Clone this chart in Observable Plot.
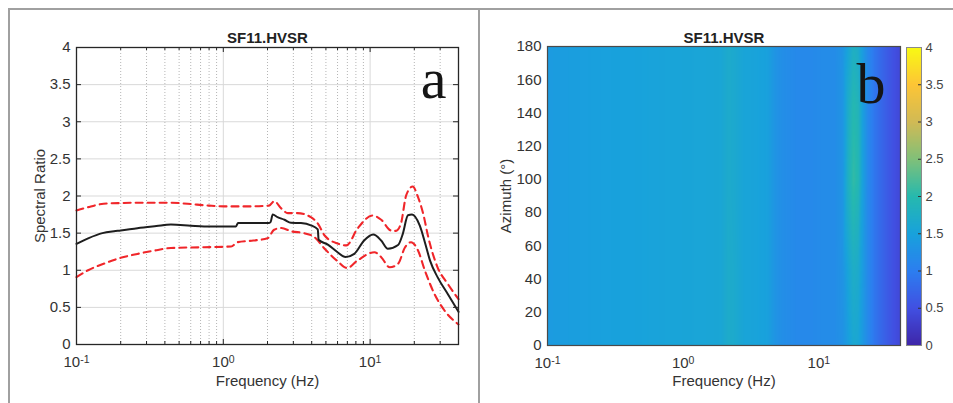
<!DOCTYPE html>
<html><head><meta charset="utf-8">
<script src="https://cdn.jsdelivr.net/npm/d3@7"></script>
<script src="https://cdn.jsdelivr.net/npm/@observablehq/plot@0.6"></script>
<style>
html,body{margin:0;padding:0;background:#fff;}
#wrap{position:relative;width:953px;height:403px;overflow:hidden;font-family:"Liberation Sans",Arial,sans-serif;}
.pan{position:absolute;top:0;}
.bl{position:absolute;background:#a0a0a0;}
</style></head><body>
<div id="wrap">
 <div id="pa" class="pan" style="left:0px"></div>
 <div id="pb" class="pan" style="left:480px"></div>
 <div id="pc" class="pan" style="left:903px"></div>
 <div class="bl" style="left:9px;top:8px;width:944px;height:2px"></div>
 <div class="bl" style="left:8px;top:8px;width:2px;height:395px"></div>
 <div class="bl" style="left:478px;top:8px;width:2px;height:395px"></div>
</div>
<script>
// ---------- Panel a: HVSR curves ----------
const meanFreq  = [0.1, 0.12, 0.15, 0.18, 0.2, 0.26, 0.35, 0.44, 0.6, 0.74, 1.0, 1.22, 1.26, 1.6, 2.05, 2.1, 2.17, 2.34, 2.61, 2.89, 3.38, 3.95, 4.4, 4.46, 5.15, 6.0, 6.8, 7.8, 9.1, 10.5, 11.9, 13.2, 15.5, 16.7, 18.1, 19.3, 21.8, 23.6, 25.6, 28.8, 33.8, 40];
const meanRatio = [1.356, 1.43, 1.50, 1.525, 1.535, 1.567, 1.595, 1.615, 1.60, 1.59, 1.59, 1.59, 1.636, 1.636, 1.636, 1.65, 1.75, 1.715, 1.68, 1.64, 1.635, 1.605, 1.55, 1.41, 1.345, 1.243, 1.178, 1.22, 1.40, 1.48, 1.40, 1.29, 1.34, 1.49, 1.74, 1.75, 1.60, 1.378, 1.13, 0.907, 0.68, 0.44];

const upperFreq  = [0.1, 0.12, 0.153, 0.2, 0.3, 0.44, 0.57, 0.8, 1.01, 1.5, 2.05, 2.22, 2.49, 2.75, 3.2, 3.95, 4.42, 4.9, 6.0, 6.9, 8.2, 10.4, 11.9, 13.9, 15.0, 16.2, 17.6, 19.5, 21.2, 23.0, 24.9, 28.8, 33.8, 40];
const upperRatio = [1.805, 1.85, 1.895, 1.905, 1.91, 1.91, 1.895, 1.87, 1.86, 1.86, 1.87, 1.93, 1.83, 1.77, 1.77, 1.715, 1.625, 1.468, 1.36, 1.335, 1.56, 1.737, 1.68, 1.535, 1.53, 1.625, 2.007, 2.128, 1.984, 1.76, 1.445, 1.04, 0.817, 0.61];

const lowerFreq  = [0.1, 0.12, 0.153, 0.2, 0.26, 0.35, 0.44, 0.74, 1.13, 1.25, 1.6, 2.0, 2.22, 2.49, 2.89, 3.55, 4.18, 4.9, 6.0, 6.98, 8.2, 10.7, 11.9, 13.6, 15.5, 17.3, 19.0, 21.2, 23.6, 27.4, 32.1, 40];
const lowerRatio = [0.907, 1.0, 1.087, 1.167, 1.22, 1.27, 1.30, 1.31, 1.32, 1.378, 1.40, 1.43, 1.545, 1.57, 1.525, 1.50, 1.445, 1.29, 1.122, 1.03, 1.13, 1.243, 1.176, 1.04, 1.087, 1.31, 1.378, 1.266, 0.997, 0.683, 0.458, 0.27];

const ratioTicks   = [0, 0.5, 1, 1.5, 2, 2.5, 3, 3.5, 4];
const freqMajor    = [0.1, 1, 10];
const freqMajorLbl = ["10^-1", "10^0", "10^1"];
const freqMinor    = [0.2, 0.3, 0.4, 0.5, 0.6, 0.7, 0.8, 0.9, 2, 3, 4, 5, 6, 7, 8, 9, 20, 30];

// ---------- Panel b: azimuthal HVSR map ----------
const heatFreq   = [0.1, 0.13, 0.17, 0.25, 0.4, 0.7, 1.0, 1.5, 1.9, 2.15, 2.4, 2.8, 3.5, 4.2, 4.8, 5.5, 7, 9, 11, 13, 15, 16.5, 18, 19.5, 21, 23, 26, 30, 35, 40];
const heatAz     = [0, 45, 100, 145, 180];
const heatAz0    = [1.40, 1.43, 1.45, 1.48, 1.50, 1.53, 1.55, 1.56, 1.58, 1.70, 1.66, 1.55, 1.52, 1.48, 1.30, 1.22, 1.15, 1.16, 1.20, 1.20, 1.28, 1.45, 1.62, 1.58, 1.38, 1.15, 0.90, 0.70, 0.52, 0.40];
const heatAz45   = [1.40, 1.43, 1.45, 1.48, 1.50, 1.53, 1.55, 1.56, 1.58, 1.70, 1.66, 1.55, 1.52, 1.48, 1.30, 1.22, 1.15, 1.16, 1.20, 1.20, 1.30, 1.55, 1.75, 1.68, 1.42, 1.15, 0.90, 0.70, 0.52, 0.40];
const heatAz100  = [1.40, 1.43, 1.45, 1.48, 1.50, 1.53, 1.55, 1.56, 1.58, 1.68, 1.64, 1.55, 1.52, 1.48, 1.30, 1.22, 1.15, 1.16, 1.20, 1.20, 1.32, 1.80, 2.08, 1.95, 1.50, 1.15, 0.90, 0.70, 0.52, 0.40];
const heatAz145  = [1.40, 1.43, 1.45, 1.48, 1.50, 1.53, 1.55, 1.56, 1.58, 1.68, 1.64, 1.55, 1.52, 1.48, 1.30, 1.22, 1.15, 1.16, 1.20, 1.20, 1.32, 1.72, 1.98, 1.88, 1.48, 1.15, 0.90, 0.70, 0.52, 0.40];
const heatAz180  = [1.40, 1.43, 1.45, 1.48, 1.50, 1.53, 1.55, 1.56, 1.58, 1.68, 1.64, 1.55, 1.52, 1.48, 1.30, 1.22, 1.15, 1.16, 1.20, 1.20, 1.30, 1.55, 1.78, 1.70, 1.42, 1.15, 0.90, 0.70, 0.52, 0.40];
const azTicks    = [0, 20, 40, 60, 80, 100, 120, 140, 160, 180];
const cbTicks    = [0, 0.5, 1, 1.5, 2, 2.5, 3, 3.5, 4];
const parula     = ["#3e26a8", "#4150e2", "#2c7ef0", "#18a2dc", "#26b9ae", "#80c079", "#d1ba55", "#fdc536", "#f8fa14"];

const FONT = "'Liberation Sans', Arial, Helvetica, sans-serif";
const toPts = (fs, vs) => fs.map((f, i) => ({f, v: vs[i]}));
const meanData = toPts(meanFreq, meanRatio);
const upperData = toPts(upperFreq, upperRatio);
const lowerData = toPts(lowerFreq, lowerRatio);

const heatRows = [heatAz0, heatAz45, heatAz100, heatAz145, heatAz180];
const heatPoints = [];
heatAz.forEach((az, j) => heatFreq.forEach((f, i) => heatPoints.push({f, az, v: heatRows[j][i]})));

const colorOpts = {type: "linear", domain: [0, 4], interpolate: d3.piecewise(d3.interpolateRgb, parula)};
const fmtFreq = (d) => freqMajorLbl[freqMajor.indexOf(d)];
const fmtNum = (d) => `${d}`;

function superscripts(svg) {
  const ns = "http://www.w3.org/2000/svg";
  svg.querySelectorAll('[aria-label="x-axis tick label"] text').forEach((t) => {
    const parts = t.textContent.split("^");
    if (parts.length !== 2) return;
    t.textContent = "";
    const a = document.createElementNS(ns, "tspan");
    a.textContent = parts[0];
    const b = document.createElementNS(ns, "tspan");
    b.textContent = parts[1];
    b.setAttribute("dy", "-0.42em");
    b.setAttribute("font-size", "10.5");
    t.append(a, b);
  });
}

// Panel a
const A = {w: 478, h: 403, mt: 47, mr: 20, mb: 59, ml: 76};
const aw = A.w - A.ml - A.mr, ah = A.h - A.mt - A.mb;
const tickStroke = "#262626";
const chartA = Plot.plot({
  width: A.w, height: A.h, marginTop: A.mt, marginRight: A.mr, marginBottom: A.mb, marginLeft: A.ml,
  style: {background: "transparent", fontFamily: FONT, fontSize: "15px", color: "#333", overflow: "visible"},
  x: {type: "log", domain: [0.1, 40]},
  y: {domain: [0, 4]},
  marks: [
    Plot.gridY(ratioTicks, {stroke: "#d9d9d9", strokeOpacity: 1}),
    Plot.gridX(freqMinor, {stroke: "#b5b5b5", strokeOpacity: 1, strokeDasharray: "1,2"}),
    Plot.gridX(freqMajor, {stroke: "#d9d9d9", strokeOpacity: 1}),
    Plot.line(upperData, {x: "f", y: "v", stroke: "#f0262a", strokeWidth: 2.1, strokeDasharray: "7,5", curve: "monotone-x"}),
    Plot.line(lowerData, {x: "f", y: "v", stroke: "#f0262a", strokeWidth: 2.1, strokeDasharray: "7,5", curve: "monotone-x"}),
    Plot.line(meanData, {x: "f", y: "v", stroke: "#1e1e1e", strokeWidth: 2, curve: "monotone-x"}),
    Plot.tickX(freqMajor, {x: (d) => d, insetTop: ah - 5, stroke: tickStroke}),
    Plot.tickX(freqMajor, {x: (d) => d, insetBottom: ah - 5, stroke: tickStroke}),
    Plot.tickX(freqMinor, {x: (d) => d, insetTop: ah - 3, stroke: tickStroke}),
    Plot.tickX(freqMinor, {x: (d) => d, insetBottom: ah - 3, stroke: tickStroke}),
    Plot.tickY(ratioTicks, {y: (d) => d, insetRight: aw - 5, stroke: tickStroke}),
    Plot.tickY(ratioTicks, {y: (d) => d, insetLeft: aw - 5, stroke: tickStroke}),
    Plot.frame({stroke: "#262626", strokeWidth: 1.3}),
    Plot.axisX(freqMajor, {tickSize: 0, tickPadding: 12, tickFormat: fmtFreq, label: null}),
    Plot.axisY(ratioTicks, {tickSize: 0, tickPadding: 6, tickFormat: fmtNum, label: null}),
    Plot.text(["SF11.HVSR"], {text: (d) => d, frameAnchor: "top", dy: -5, lineAnchor: "bottom", fontWeight: "bold", fontSize: 15, fill: "#222"}),
    Plot.text(["Frequency (Hz)"], {text: (d) => d, frameAnchor: "bottom", dy: 41, lineAnchor: "bottom", fontSize: 15}),
    Plot.text(["Spectral Ratio"], {text: (d) => d, frameAnchor: "left", dx: -36, rotate: -90, textAnchor: "middle", lineAnchor: "middle", fontSize: 15}),
    Plot.text(["a"], {text: (d) => d, frameAnchor: "top-right", dx: -12, dy: 50, lineAnchor: "bottom", textAnchor: "end", fontFamily: "'Liberation Serif', 'DejaVu Serif', serif", fontSize: 58, fill: "#151515"})
  ]
});
superscripts(chartA);
document.getElementById("pa").append(chartA);

// Panel b
const B = {w: 423, h: 403, mt: 46, mr: 3, mb: 58, ml: 67};
const chartB = Plot.plot({
  width: B.w, height: B.h, marginTop: B.mt, marginRight: B.mr, marginBottom: B.mb, marginLeft: B.ml,
  style: {background: "transparent", fontFamily: FONT, fontSize: "15px", color: "#333", overflow: "visible"},
  x: {type: "log", domain: [0.1, 40]},
  y: {domain: [0, 180]},
  color: colorOpts,
  marks: [
    Plot.raster(heatPoints, {x: "f", y: "az", fill: "v", interpolate: "barycentric"}),
    Plot.frame({stroke: "#4a4a4a", strokeWidth: 1.2}),
    Plot.axisX(freqMajor, {tickSize: 0, tickPadding: 12, tickFormat: fmtFreq, label: null}),
    Plot.axisY(azTicks, {tickSize: 0, tickPadding: 6, tickFormat: fmtNum, label: null}),
    Plot.text(["SF11.HVSR"], {text: (d) => d, frameAnchor: "top", dy: -4, lineAnchor: "bottom", fontWeight: "bold", fontSize: 15, fill: "#222"}),
    Plot.text(["Frequency (Hz)"], {text: (d) => d, frameAnchor: "bottom", dy: 40, lineAnchor: "bottom", fontSize: 15}),
    Plot.text(["Azimuth (°)"], {text: (d) => d, frameAnchor: "left", dx: -41, rotate: -90, textAnchor: "middle", lineAnchor: "middle", fontSize: 15}),
    Plot.text(["b"], {text: (d) => d, frameAnchor: "top-right", dx: -15, dy: 56, lineAnchor: "bottom", textAnchor: "end", fontFamily: "'Liberation Serif', 'DejaVu Serif', serif", fontSize: 58, fill: "#151515"})
  ]
});
superscripts(chartB);
document.getElementById("pb").append(chartB);

// Colorbar
const C = {w: 50, h: 403, mt: 47, mr: 32, mb: 58, ml: 3};
const cw = C.w - C.ml - C.mr;
const chartC = Plot.plot({
  width: C.w, height: C.h, marginTop: C.mt, marginRight: C.mr, marginBottom: C.mb, marginLeft: C.ml,
  style: {background: "transparent", fontFamily: FONT, fontSize: "13px", color: "#444", overflow: "visible"},
  x: {domain: [0, 1], axis: null},
  y: {domain: [0, 4]},
  color: colorOpts,
  marks: [
    Plot.raster({fill: (x, y) => y, x1: 0, x2: 1, y1: 0, y2: 4}),
    Plot.tickY(cbTicks, {y: (d) => d, insetLeft: cw - 3, stroke: "#333"}),
    Plot.frame({stroke: "#8a8a8a", strokeWidth: 1}),
    Plot.axisY(cbTicks, {anchor: "right", tickSize: 0, tickPadding: 4, tickFormat: fmtNum, label: null})
  ]
});
document.getElementById("pc").append(chartC);
</script>
</body></html>
